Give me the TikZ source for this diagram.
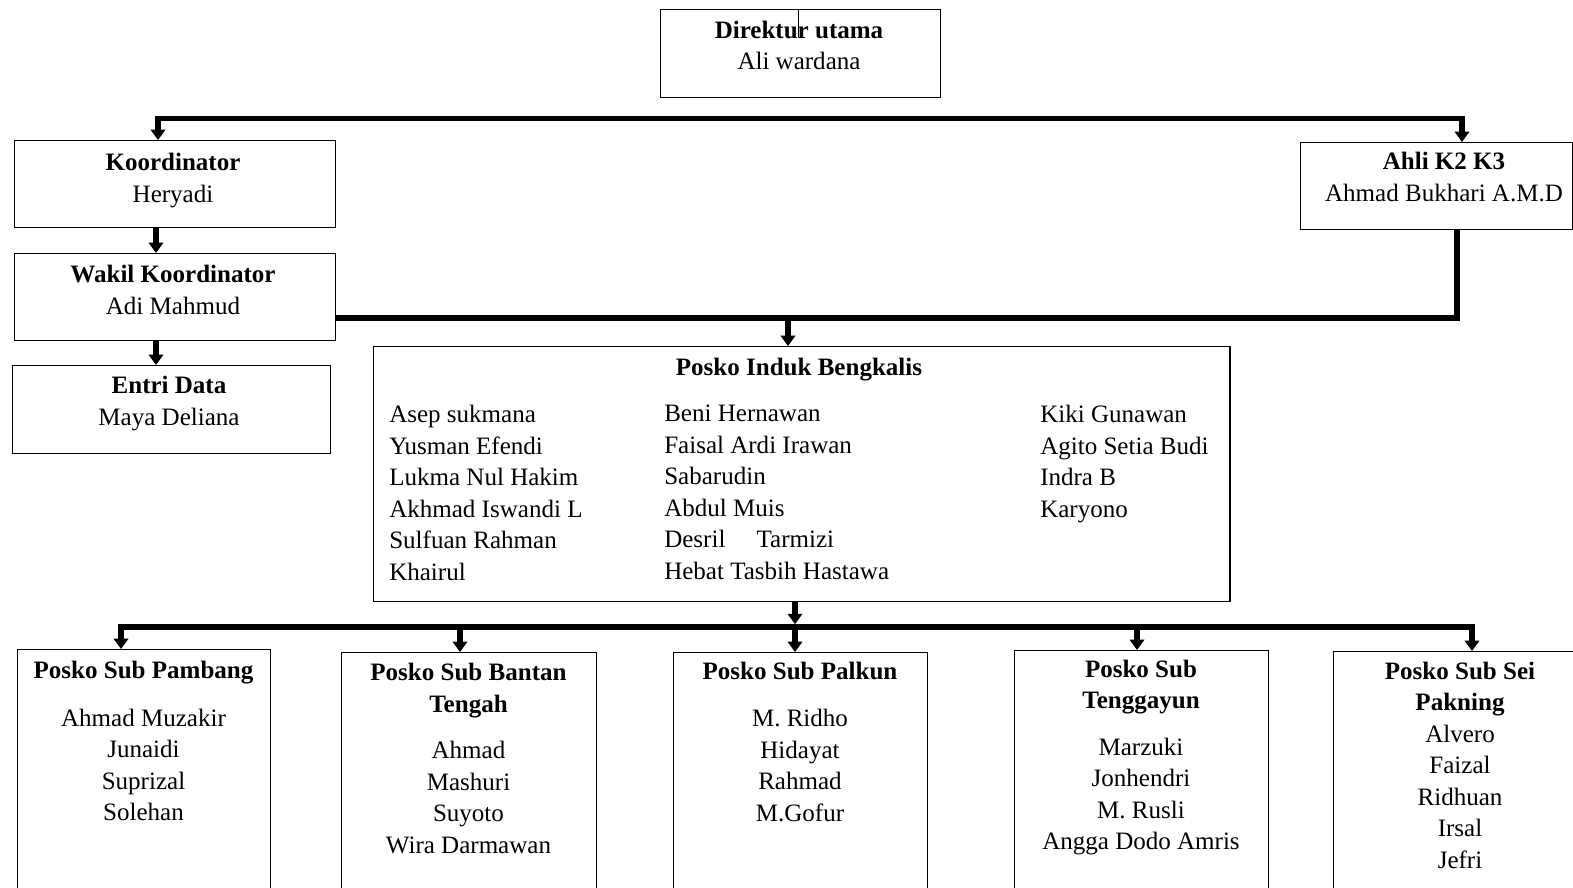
\documentclass[tikz,border=0pt]{standalone}
\usepackage{fontspec}
\setmainfont{Liberation Serif}
\usetikzlibrary{arrows.meta}

\begin{document}
\begin{tikzpicture}[x=0.025cm,y=-0.025cm,
  box/.style={draw,line width=1pt,inner sep=0pt,anchor=north west},
  txt/.style={inner sep=0pt,align=center,anchor=north,font={\fontsize{17.8}{22.4}\selectfont}},
  bus/.style={line width=0.135cm},
  arr/.style={bus,-{Triangle[width=0.36cm,length=0.26cm]}}]
\useasboundingbox (0,0) rectangle (1573,888);
\clip (0,0) rectangle (1573,888);
% top row
\node[box,minimum width=7cm,minimum height=2.2cm] (dir) at (660,9) {};
\node[txt] (dirtxt) at (799,20.5) {\textbf{Direktur utama}\\Ali wardana};
\draw[line width=0.7pt] (dir.north -| 798,0) -- ++(0,28);
\node[box,minimum width=8.025cm,minimum height=2.175cm] (koord) at (14,140) {};
\node[txt] (koordtxt) at (173,153) {\textbf{Koordinator}\\Heryadi};
\node[box,minimum width=8.025cm,minimum height=2.175cm] (wakil) at (14,253) {};
\node[txt] (wakiltxt) at (173,265) {\textbf{Wakil Koordinator}\\Adi Mahmud};
\node[box,minimum width=7.95cm,minimum height=2.2cm] (entri) at (12,365) {};
\node[txt] (entritxt) at (169,376) {\textbf{Entri Data}\\Maya Deliana};
\node[box,minimum width=6.8cm,minimum height=2.175cm] (ahli) at (1300,142) {};
\node[txt] (ahlitxt) at (1444,152) {\textbf{Ahli K2 K3}\\Ahmad Bukhari A.M.D};
% posko induk
\node[box,minimum width=21.4cm,minimum height=6.375cm] (posko) at (373,346) {};
\node[txt] (poskotxt) at (799,358) {\textbf{Posko Induk Bengkalis}};
\node[txt,align=left,anchor=north west] (col1) at (389,405) {Asep sukmana\\Yusman Efendi\\Lukma Nul Hakim\\Akhmad Iswandi L\\Sulfuan Rahman\\Khairul};
\node[txt,align=left,anchor=north west] (col2) at (664,405) {Beni Hernawan\\Faisal Ardi Irawan\\Sabarudin\\Abdul Muis\\Desril\hspace{0.78cm}Tarmizi\\Hebat Tasbih Hastawa};
\node[txt,align=left,anchor=north west] (col3) at (1040,405) {Kiki Gunawan\\Agito Setia Budi\\Indra B\\Karyono};
% posko sub
\node[box,minimum width=6.325cm,minimum height=6.5cm] (sub1) at (17,649) {};
\node[txt] (sub1txt) at (143.5,661) {\textbf{Posko Sub Pambang}\\[0.4cm]Ahmad Muzakir\\Junaidi\\Suprizal\\Solehan};
\node[box,minimum width=6.375cm,minimum height=6.5cm] (sub2) at (341,652) {};
\node[txt] (sub2txt) at (468.5,663) {\textbf{Posko Sub Bantan}\\\textbf{Tengah}\\[0.38cm]Ahmad\\Mashuri\\Suyoto\\Wira Darmawan};
\node[box,minimum width=6.35cm,minimum height=6.5cm] (sub3) at (673,652) {};
\node[txt] (sub3txt) at (800,661.5) {\textbf{Posko Sub Palkun}\\[0.4cm]M. Ridho\\Hidayat\\Rahmad\\M.Gofur};
\node[box,minimum width=6.35cm,minimum height=6.5cm] (sub4) at (1014,650) {};
\node[txt] (sub4txt) at (1141,659.5) {\textbf{Posko Sub}\\\textbf{Tenggayun}\\[0.38cm]Marzuki\\Jonhendri\\M. Rusli\\Angga Dodo Amris};
\node[box,minimum width=6.35cm,minimum height=6.5cm] (sub5) at (1333,651) {};
\node[txt] (sub5txt) at (1460,661.5) {\textbf{Posko Sub Sei}\\\textbf{Pakning}\\Alvero\\Faizal\\Ridhuan\\Irsal\\Jefri};
% connectors
\coordinate (topbus) at (800,118.5);
\draw[arr] (topbus) -| (koord.north -| 158,0);
\draw[arr] (topbus) -| (ahli.north -| 1462,0);
\draw[arr] (koord.south -| 156,0) -- (wakil.north -| 156,0);
\draw[arr] (wakil.south -| 156,0) -- (entri.north -| 156,0);
\coordinate (midbus) at (788,318);
\draw[bus] (wakil.east |- midbus) -| (ahli.south -| 1457,0);
\draw[arr] (midbus) -- (midbus |- posko.north);
\coordinate (lowbus) at (795,627);
\draw[arr,shorten >=0.07cm] (posko.south -| lowbus) -- (lowbus);
\foreach \b/\ax in {sub1/121,sub2/460,sub4/1137,sub5/1472}
  \draw[arr] (lowbus) -| (\b.north -| \ax,0);
\draw[arr] (lowbus) -- (sub3.north -| lowbus);
\end{tikzpicture}
\end{document}
